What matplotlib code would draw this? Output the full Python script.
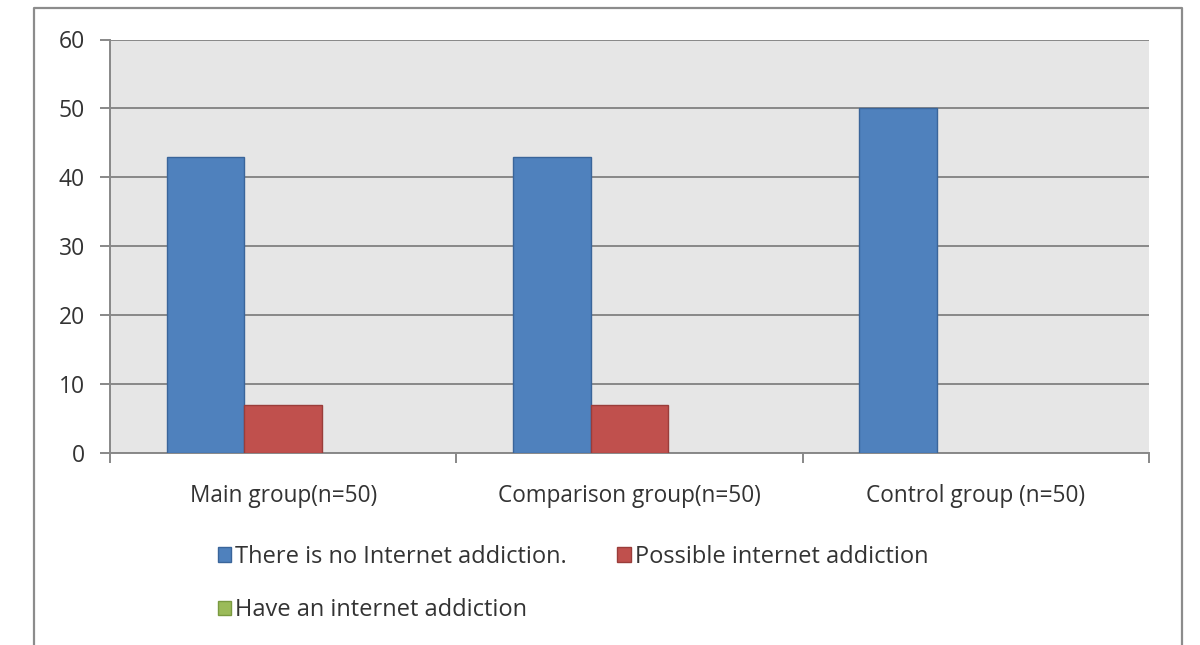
import numpy as np
import matplotlib
matplotlib.use('Agg')
import matplotlib.pyplot as plt
from matplotlib.lines import Line2D
from matplotlib.patches import Patch

groups = ['Main group(n=50)', 'Comparison group(n=50)', 'Control group (n=50)']
series = ['There is no Internet addiction.', 'Possible internet addiction',
          'Have an internet addiction']
no_addiction = [43, 43, 50]
possible_addiction = [7, 7, 0]
have_addiction = [0, 0, 0]
y_ticks = [0, 10, 20, 30, 40, 50, 60]

fills = ['#4f81bd', '#c0504d', '#9bbb59']
edges = ['#3a659a', '#9a3d3a', '#7a9a40']
grid_c = '#888888'
text_c = '#333333'

plt.rcParams['font.family'] = ['Open Sans', 'DejaVu Sans']

fig = plt.figure(figsize=(12, 6.45), dpi=100)
W, H = 1200, 645
ax = fig.add_axes([110 / W, 1 - 453 / H, (1149 - 110) / W, (453 - 39.5) / H])
ax.set_facecolor('#e6e6e6')

x = np.arange(len(groups))
w = 0.224
values = [no_addiction, possible_addiction, have_addiction]
for i, vals in enumerate(values):
    # empty bars get no outline so nothing shows at zero
    lw = [1.0 if v > 0 else 0 for v in vals]
    ax.bar(x + (i - 1) * w, vals, w, color=fills[i], edgecolor=edges[i],
           linewidth=lw, zorder=3)

ax.set_xlim(-0.5, 2.5)
ax.set_ylim(0, 60)
ax.set_yticks(y_ticks)
ax.yaxis.grid(True, color=grid_c, linewidth=1.4, zorder=1)
ax.set_axisbelow(True)

# category boundaries get ticks, labels sit between them
ax.set_xticks([-0.5, 0.5, 1.5, 2.5])
ax.set_xticklabels([])
ax.set_xticks(x, minor=True)
ax.set_xticklabels(groups, minor=True)
ax.tick_params(axis='x', which='major', length=7, width=1.4, color=grid_c)
ax.tick_params(axis='x', which='minor', length=0, pad=22, labelsize=16.3,
               labelcolor=text_c)
ax.tick_params(axis='y', length=7, width=1.4, color=grid_c, pad=11,
               labelsize=16.5, labelcolor=text_c)

for s in ['top', 'right']:
    ax.spines[s].set_visible(False)
for s in ['left', 'bottom']:
    ax.spines[s].set_color(grid_c)
    ax.spines[s].set_linewidth(1.4)

handles = [Patch(facecolor=fills[i], edgecolor=edges[i], linewidth=1.0)
           for i in range(3)]
order = [0, 2, 1]
fig.legend([handles[i] for i in order], [series[i] for i in order],
           loc='upper left', bbox_to_anchor=(213 / W, 1 - 540 / H), ncol=2,
           frameon=False, fontsize=17, handlelength=0.58, handleheight=0.58,
           handletextpad=0.15, columnspacing=2.15, labelspacing=1.25,
           labelcolor=text_c, borderaxespad=0, borderpad=0.2)

# outer chart frame, open at the bottom
frame_c = '#8c8c8c'
x0, x1, y0 = 34 / W, 1182 / W, 1 - 8 / H
fig.add_artist(Line2D([x0, x0, x1, x1], [0, y0, y0, 0], color=frame_c,
                      linewidth=1.6, transform=fig.transFigure))

fig.savefig('out.png', dpi=100)
